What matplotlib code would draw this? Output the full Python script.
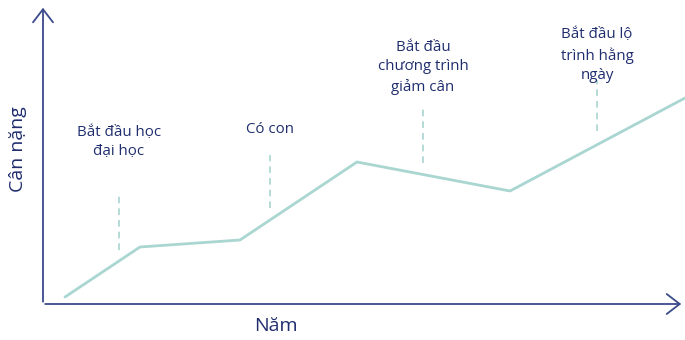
import matplotlib
matplotlib.use("Agg")
import matplotlib.pyplot as plt

# Data (x: horizontal position, y: weight level, in chart units)
line_x = [65, 140, 240, 357, 510, 685]
line_y = [43, 93, 100, 178, 149, 242]

events = ["Bắt đầu học\nđại học", "Có con", "Bắt đầu\nchương trình\ngiảm cân",
          "Bắt đầu lộ\ntrình hằng\nngày"]
event_x = [119, 270, 423, 597]
event_y0 = [90, 132, 177, 209]
event_y1 = [147, 185, 233, 260]
label_y = [215, 218, 300, 313]

x_label = "Năm"
y_label = "Cân nặng"

NAVY = "#1f2d6e"
AXIS = "#3b4a8c"
TEAL = "#a9d6d1"

fig = plt.figure(figsize=(6.85, 3.4), dpi=100)
ax = fig.add_axes([0, 0, 1, 1])
ax.set_xlim(0, 685)
ax.set_ylim(0, 340)
ax.axis("off")

# axes arrows
astyle = "->,head_length=0.47,head_width=0.36"
ax.annotate("", xy=(43, 335), xytext=(43, 35.5),
            arrowprops=dict(arrowstyle=astyle, color=AXIS, lw=1.3, mutation_scale=20))
ax.annotate("", xy=(684, 36), xytext=(42.4, 36),
            arrowprops=dict(arrowstyle=astyle, color=AXIS, lw=1.3, mutation_scale=20))

ax.plot(line_x, line_y, color=TEAL, lw=2, solid_capstyle="round")

for lab, x, y0, y1, ly in zip(events, event_x, event_y0, event_y1, label_y):
    ax.plot([x, x], [y0, y1], color=TEAL, lw=1.2, ls=(0, (4, 3)))
    ax.text(x, ly, lab, ha="center", va="top", color=NAVY, fontsize=10.8,
            family="Open Sans", linespacing=1.4)

ax.text(276, 14, x_label, ha="center", va="center", color=NAVY, fontsize=14,
        family="Open Sans")
ax.text(18, 191, y_label, ha="center", va="center", color=NAVY, fontsize=14,
        family="Open Sans", rotation=90)

fig.savefig("out.png", dpi=100)
